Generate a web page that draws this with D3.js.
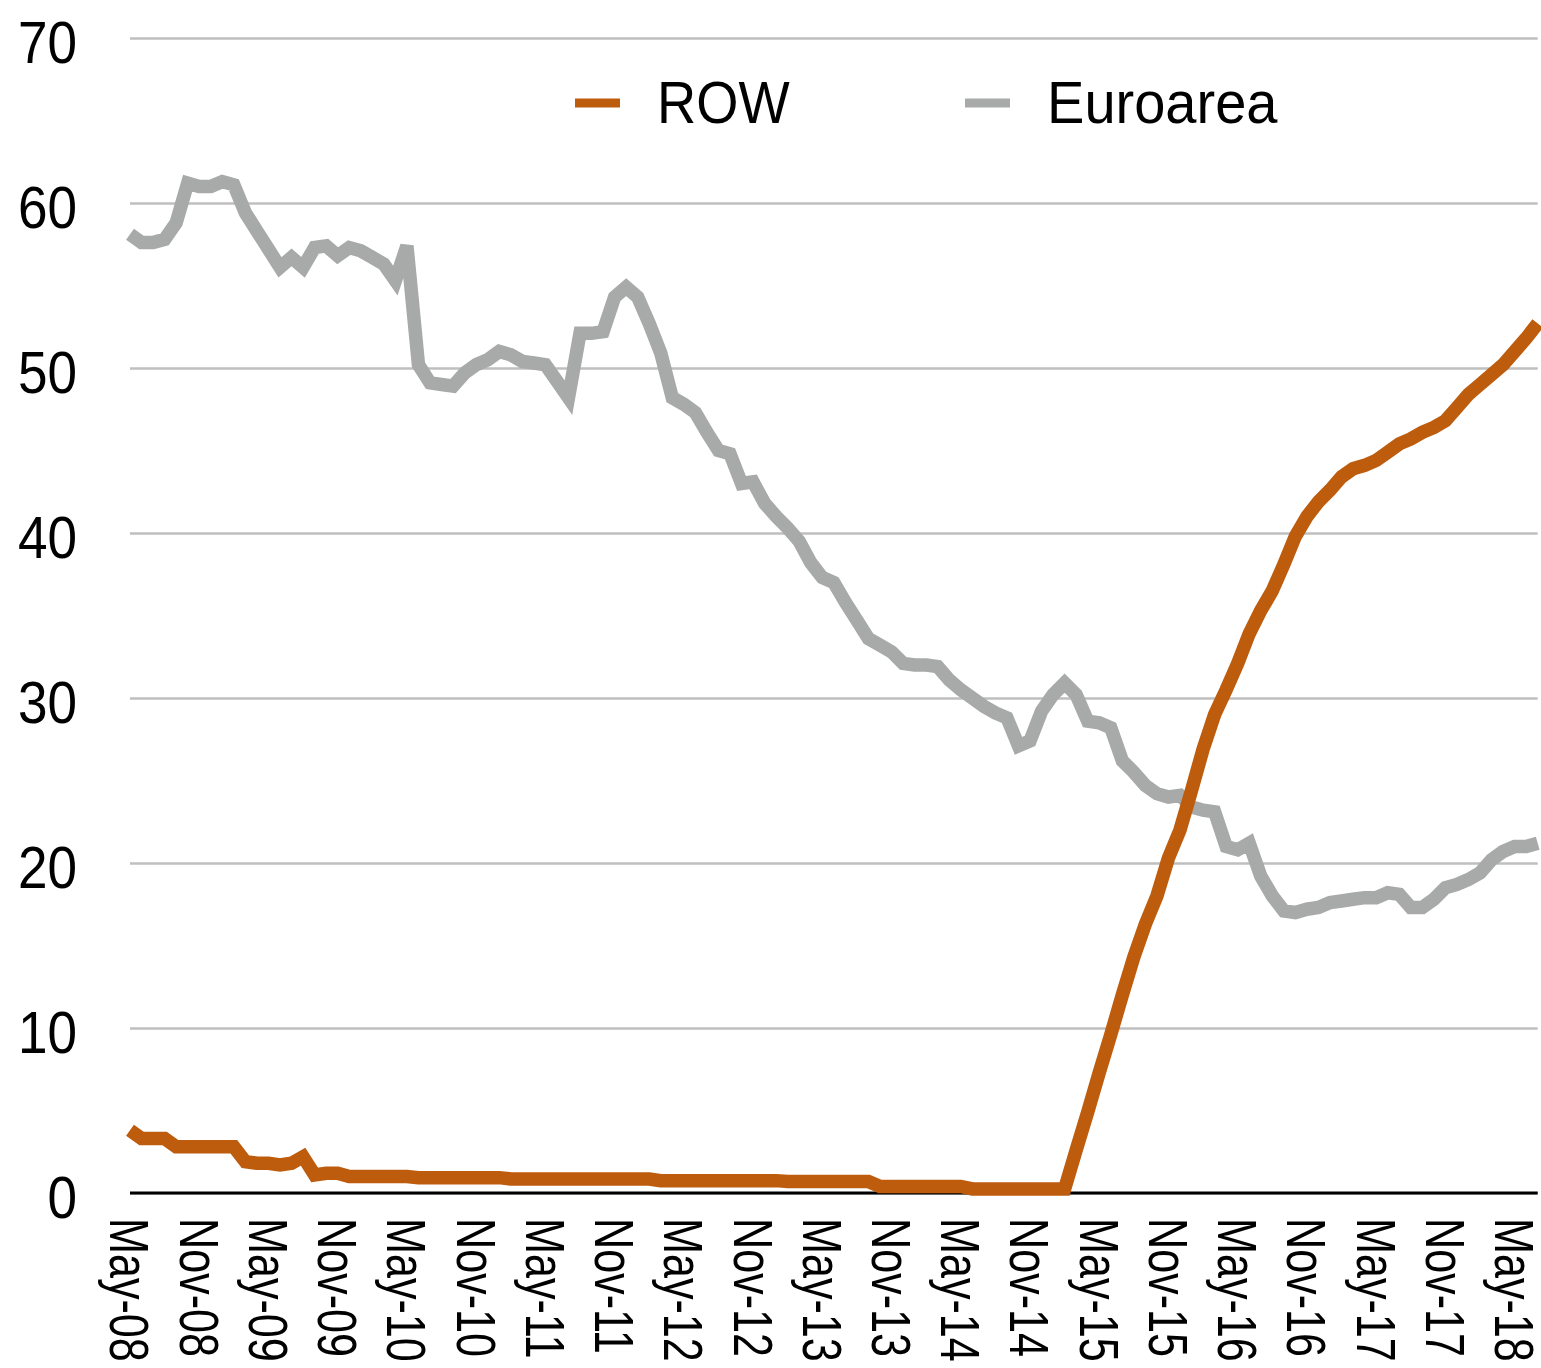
<!DOCTYPE html>
<html><head><meta charset="utf-8">
<script src="https://cdn.jsdelivr.net/npm/d3@7"></script>
<style>body{margin:0;background:#fff}</style>
</head><body><svg id="c" width="1541" height="1368"></svg>
<script>
// ---- data ----
const firstMonth = [2008, 4];   // May 2008 (monthly observations)
const monthCount = 123;         // May-08 .. Jul-18
const euroarea = [58.1,57.6,57.6,57.8,58.8,61.2,61.0,61.0,61.3,61.1,
  59.4,58.3,57.2,56.1,56.7,56.1,57.3,57.4,56.8,57.3,
  57.1,56.7,56.3,55.3,57.4,50.2,49.1,49.0,48.9,49.7,
  50.2,50.5,51.0,50.8,50.4,50.3,50.2,49.2,48.2,52.1,
  52.1,52.2,54.3,54.9,54.3,52.7,50.9,48.2,47.8,47.3,
  46.1,45.0,44.8,43.0,43.1,41.8,41.0,40.3,39.5,38.2,
  37.3,37.0,35.8,34.7,33.6,33.2,32.8,32.1,32.0,32.0,
  31.9,31.1,30.5,30.0,29.5,29.1,28.8,27.1,27.4,29.2,
  30.2,30.9,30.2,28.6,28.5,28.2,26.2,25.5,24.7,24.2,
  24.0,24.1,23.4,23.2,23.1,21.0,20.8,21.2,19.2,18.0,
  17.1,17.0,17.2,17.3,17.6,17.7,17.8,17.9,17.9,18.2,
  18.1,17.3,17.3,17.8,18.5,18.7,19.0,19.4,20.2,20.7,
  21.0,21.0,21.2];
const row = [3.8,3.3,3.3,3.3,2.8,2.8,2.8,2.8,2.8,2.8,
  1.9,1.8,1.8,1.7,1.8,2.2,1.1,1.2,1.2,1.0,
  1.0,1.0,1.0,1.0,1.0,0.93,0.93,0.93,0.93,0.93,
  0.93,0.93,0.93,0.85,0.85,0.85,0.85,0.85,0.85,0.85,
  0.85,0.85,0.85,0.85,0.85,0.85,0.75,0.75,0.75,0.75,
  0.75,0.75,0.75,0.75,0.75,0.75,0.75,0.7,0.7,0.7,
  0.7,0.7,0.7,0.7,0.7,0.4,0.4,0.4,0.4,0.4,
  0.4,0.4,0.4,0.25,0.25,0.25,0.25,0.25,0.25,0.25,
  0.25,0.25,2.6,4.9,7.3,9.6,12.0,14.3,16.3,18.0,
  20.3,22.0,24.4,26.9,29.0,30.5,32.1,33.9,35.3,36.5,
  38.1,39.8,41.0,41.9,42.6,43.4,43.9,44.1,44.4,44.9,
  45.4,45.7,46.1,46.4,46.8,47.6,48.4,49.0,49.6,50.2,
  51.0,51.8,52.7];
const yTicks = [0,10,20,30,40,50,60,70];
const seriesNames = ["ROW", "Euroarea"];
const tickEvery = 6;

// ---- styles ----
const colors = {ROW: "#BE5C0E", Euroarea: "#A7AAA9"};
const font = "'Liberation Sans', Arial, Helvetica, sans-serif";

const fmt = d3.utcFormat("%b-%y");
const start = new Date(Date.UTC(firstMonth[0], firstMonth[1], 1));
const months = d3.utcMonth.range(start, d3.utcMonth.offset(start, monthCount)).map(fmt);

const svg = d3.select("#c");
const L = 130, R = 1537.7, T = 38, B = 1193;
const x = d3.scalePoint().domain(months).range([L, R]);
const y = d3.scaleLinear().domain([0, 70]).range([B, T]);

// gridlines + y labels
const gy = svg.append("g").attr("transform", `translate(${L},0)`)
  .call(d3.axisLeft(y).tickValues(yTicks).tickSize(-(R - L)).tickFormat(d3.format("d")));
gy.select(".domain").remove();
gy.selectAll(".tick line").attr("stroke", "#BFBFBF").attr("stroke-width", 2.5);
gy.selectAll(".tick text")
  .attr("x", null).attr("dy", null)
  .attr("text-anchor", "end")
  .attr("transform", "translate(-53,24) scale(0.9,1)")
  .attr("font-family", font).attr("font-size", 59).attr("fill", "#000");

// x axis labels
const gx = svg.append("g")
  .call(d3.axisBottom(x).tickValues(months.filter((d, i) => i % tickEvery === 0)).tickSize(0));
gx.select(".domain").remove();
gx.selectAll(".tick text")
  .attr("x", 0).attr("y", 20).attr("dy", null)
  .attr("text-anchor", "start")
  .attr("transform", "translate(0,1218) rotate(90) scale(0.77,1)")
  .attr("font-family", font).attr("font-size", 56).attr("fill", "#000");

// zero axis line
svg.append("line").attr("x1", L).attr("x2", R).attr("y1", y(0)).attr("y2", y(0))
  .attr("stroke", "#000").attr("stroke-width", 3);

// lines
const line = d3.line().x((d, i) => x(months[i])).y(d => y(d));
const seriesData = {ROW: row, Euroarea: euroarea};
["Euroarea", "ROW"].forEach(name => {
  svg.append("path").datum(seriesData[name])
    .attr("d", line).attr("fill", "none")
    .attr("stroke", colors[name]).attr("stroke-width", 13.5)
    .attr("stroke-linejoin", "miter").attr("stroke-miterlimit", 4);
});

// legend
const legendPos = [{sx: 575, tx: 657, scale: 0.92}, {sx: 965, tx: 1047, scale: 0.95}];
seriesNames.forEach((name, i) => {
  const p = legendPos[i];
  svg.append("line").attr("x1", p.sx).attr("x2", p.sx + 45).attr("y1", 103).attr("y2", 103)
    .attr("stroke", colors[name]).attr("stroke-width", 9);
  svg.append("text").attr("transform", `translate(${p.tx},123) scale(${p.scale},1)`)
    .attr("font-family", font).attr("font-size", 59).attr("fill", "#000").text(name);
});
</script></body></html>
